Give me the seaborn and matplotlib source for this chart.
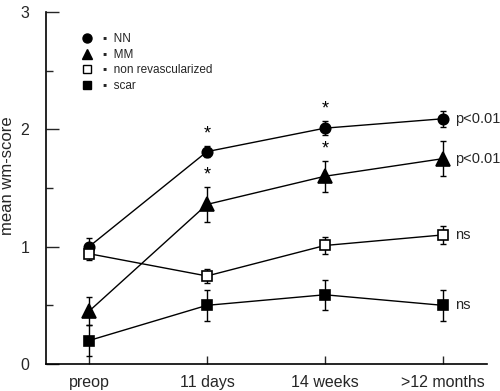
import matplotlib
matplotlib.use("Agg")
import matplotlib.pyplot as plt
from matplotlib.lines import Line2D
import seaborn as sns
import pandas as pd
import numpy as np

timepoints = ["preop", "11 days", "14 weeks", ">12 months"]
series_names = ["NN", "MM", "non revascularized", "scar"]
nn_mean = [1.00, 1.81, 2.01, 2.09]
nn_err = [0.07, 0.05, 0.06, 0.07]
mm_mean = [0.45, 1.36, 1.60, 1.75]
mm_err = [0.12, 0.15, 0.13, 0.15]
nr_mean = [0.94, 0.75, 1.01, 1.10]
nr_err = [0.05, 0.06, 0.07, 0.08]
scar_mean = [0.20, 0.50, 0.59, 0.50]
scar_err = [0.13, 0.13, 0.13, 0.13]
end_labels = ["p<0.01", "p<0.01", "ns", "ns"]
star_points = [("NN", 1), ("NN", 2), ("MM", 1), ("MM", 2)]

means = {"NN": nn_mean, "MM": mm_mean, "non revascularized": nr_mean, "scar": scar_mean}
errs = {"NN": nn_err, "MM": mm_err, "non revascularized": nr_err, "scar": scar_err}

rows = []
for s in series_names:
    for i, t in enumerate(timepoints):
        rows.append({"series": s, "t": i, "mean": means[s][i], "err": errs[s][i]})
df = pd.DataFrame(rows)

sns.set_style("white")
plt.rcParams["font.family"] = ["Liberation Sans", "DejaVu Sans"]

fig = plt.figure(figsize=(5.0, 3.91), dpi=100)
ax = fig.add_axes([46/500, 1-364/391, (487-46)/500, (364-12)/391])

markers = {"NN": "o", "MM": "^", "non revascularized": "s", "scar": "s"}
faces = {"NN": "black", "MM": "black", "non revascularized": "white", "scar": "black"}
sizes = {"NN": 7.5, "MM": 9.5, "non revascularized": 7.5, "scar": 7.5}

for s in series_names:
    d = df[df.series == s]
    ax.errorbar(d["t"], d["mean"], yerr=d["err"], fmt="none", ecolor="black",
                elinewidth=1.0, capsize=2, capthick=1.0, zorder=2)
    sns.lineplot(data=d, x="t", y="mean", ax=ax, color="black", linewidth=1.0,
                 marker=markers[s], markersize=sizes[s], markerfacecolor=faces[s],
                 markeredgecolor="black", markeredgewidth=1.2, zorder=3, legend=False)

for s, i in star_points:
    ax.text(i, means[s][i] + errs[s][i] + 0.10, "*", ha="center", va="center",
            fontsize=13, color="black")

for s, lab in zip(series_names, end_labels):
    ax.text(3 + 0.10, means[s][-1], lab, ha="left", va="center", fontsize=10.5)

ax.set_xlim(-0.365, 3.375)
ax.set_ylim(0, 3)
ax.set_xticks(range(len(timepoints)))
ax.set_xticklabels(timepoints, fontsize=11.5)
ax.set_yticks([0, 1, 2, 3])
ax.set_yticklabels(["0", "1", "2", "3"], fontsize=11.5)
ax.set_yticks([0.5, 1.5, 2.5], minor=True)
ax.tick_params(axis="y", which="major", direction="in", length=9, width=1, pad=12, left=True)
ax.tick_params(axis="y", which="minor", direction="in", length=5, width=1, left=True)
ax.tick_params(axis="x", which="major", direction="in", length=6, width=1, pad=8, bottom=True)
ax.set_xlabel("")
ax.set_ylabel("mean wm-score", fontsize=12)
ax.yaxis.set_label_coords(-0.07, 0.534)
sns.despine(ax=ax)
for sp in ["left", "bottom"]:
    ax.spines[sp].set_color("black")
    ax.spines[sp].set_linewidth(1.2)

handles = [
    Line2D([], [], linestyle="none", marker="o", markersize=6.5, markerfacecolor="black", markeredgecolor="black"),
    Line2D([], [], linestyle="none", marker="^", markersize=7.5, markerfacecolor="black", markeredgecolor="black"),
    Line2D([], [], linestyle="none", marker="s", markersize=6, markerfacecolor="white", markeredgecolor="black"),
    Line2D([], [], linestyle="none", marker="s", markersize=6, markerfacecolor="black", markeredgecolor="black"),
]
labels = ["\u25aa  " + s for s in series_names]
ax.legend(handles, labels, loc="upper left", bbox_to_anchor=(0.079, 0.94), frameon=False,
          fontsize=8.5, handlelength=1.0, handletextpad=0.86, labelspacing=0.31,
          borderpad=0, borderaxespad=0)

fig.savefig("out.png", dpi=100)
